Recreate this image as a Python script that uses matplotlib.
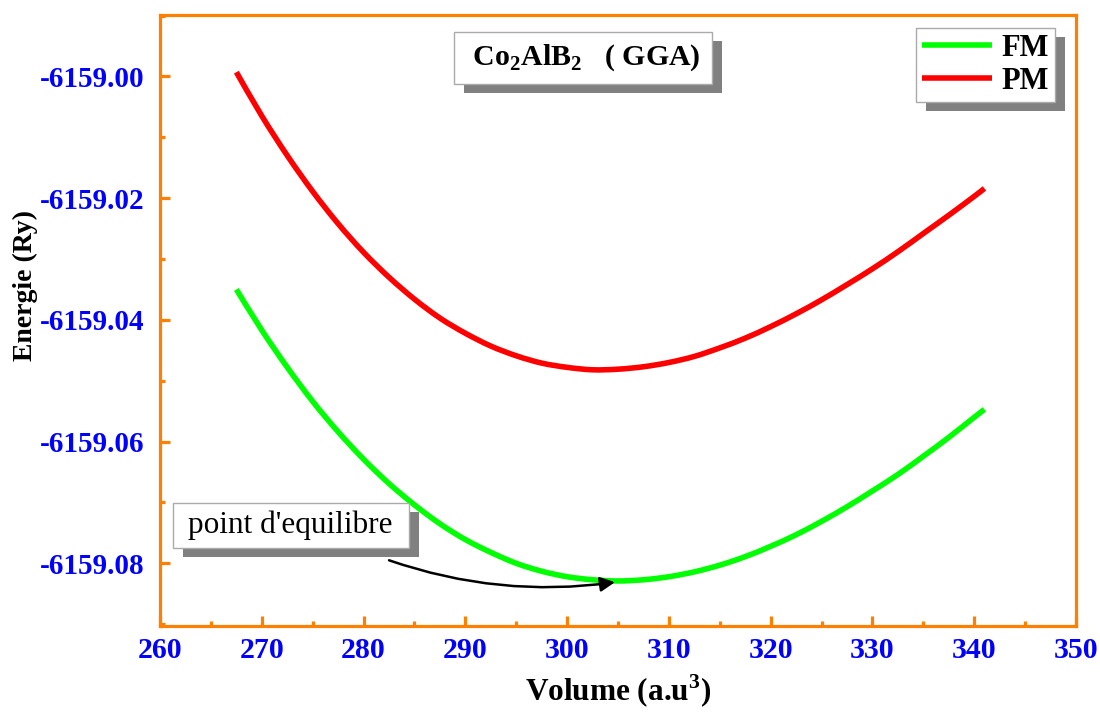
import numpy as np
import matplotlib.pyplot as plt
from matplotlib.patches import Rectangle, PathPatch
from matplotlib.path import Path
from matplotlib.lines import Line2D
from matplotlib.ticker import MultipleLocator, FormatStrFormatter

plt.rcParams['font.family'] = ['Liberation Serif', 'DejaVu Serif']
plt.rcParams['mathtext.fontset'] = 'custom'
plt.rcParams['mathtext.rm'] = 'Liberation Serif:bold'

# volume (a.u^3) and energies (Ry)
volume = [267.5, 270, 272.5, 275, 277.5, 280, 282.5, 285, 287.5, 290,
          292.5, 295, 297.5, 300, 302.5, 305, 307.5, 310, 312.5, 315,
          317.5, 320, 322.5, 325, 327.5, 330, 332.5, 335, 337.5, 340, 341]
e_fm = [-6159.0350, -6159.0417, -6159.0478, -6159.0534, -6159.0584, -6159.0629,
        -6159.0669, -6159.0704, -6159.0735, -6159.0761, -6159.0782, -6159.0800,
        -6159.0813, -6159.0822, -6159.0827, -6159.0829, -6159.0827, -6159.0822,
        -6159.0814, -6159.0803, -6159.0789, -6159.0772, -6159.0753, -6159.0731,
        -6159.0707, -6159.0681, -6159.0654, -6159.0624, -6159.0593, -6159.0560,
        -6159.0547]
e_pm = [-6158.9993, -6159.0065, -6159.0130, -6159.0189, -6159.0242, -6159.0289,
        -6159.0330, -6159.0366, -6159.0397, -6159.0422, -6159.0443, -6159.0459,
        -6159.0471, -6159.0478, -6159.0482, -6159.0481, -6159.0477, -6159.0470,
        -6159.0460, -6159.0446, -6159.0430, -6159.0411, -6159.0390, -6159.0367,
        -6159.0342, -6159.0316, -6159.0288, -6159.0258, -6159.0228, -6159.0197,
        -6159.0184]

orange = '#FF8000'
blue = '#0000FF'
green = '#00FF00'
red = '#FF0000'


def smooth_curve(x, y):
    # Catmull-Rom through the points, drawn as cubic bezier segments
    pts = np.column_stack([x, y])
    verts = [pts[0]]
    codes = [Path.MOVETO]
    n = len(pts)
    for i in range(n - 1):
        p0 = pts[i - 1] if i > 0 else pts[i]
        p1, p2 = pts[i], pts[i + 1]
        p3 = pts[i + 2] if i + 2 < n else pts[i + 1]
        verts += [p1 + (p2 - p0) / 6, p2 - (p3 - p1) / 6, p2]
        codes += [Path.CURVE4] * 3
    return Path(verts, codes)


fig = plt.figure(figsize=(11, 7.13), dpi=100)
ax = fig.add_axes([0.1455, 0.122, 0.8327, 0.857])

for e, c in [(e_fm, green), (e_pm, red)]:
    ax.add_patch(PathPatch(smooth_curve(volume, e), fc='none', ec=c, lw=4.0,
                           capstyle='butt', zorder=2))

ax.set_xlim(260, 350)
ax.set_ylim(-6159.0903, -6158.9899)
ax.xaxis.set_major_locator(MultipleLocator(10))
ax.xaxis.set_minor_locator(MultipleLocator(5))
ax.yaxis.set_major_locator(MultipleLocator(0.02))
ax.yaxis.set_minor_locator(MultipleLocator(0.01))
ax.yaxis.set_major_formatter(FormatStrFormatter('%.2f'))

for s in ax.spines.values():
    s.set_color(orange)
    s.set_linewidth(2.3)
ax.tick_params(which='both', direction='in', color=orange, width=2.3,
               top=False, right=False)
ax.tick_params(which='major', length=7)
ax.tick_params(which='minor', length=3.5)
ax.tick_params(axis='x', labelsize=21.5, labelcolor=blue, pad=8)
ax.tick_params(axis='y', labelsize=21, labelcolor=blue, pad=11)
for lab in ax.get_xticklabels() + ax.get_yticklabels():
    lab.set_fontweight('bold')

ax.set_xlabel(r'Volume (a.u$^\mathregular{3}$)', fontsize=22.5, fontweight='bold', labelpad=6)
ax.set_ylabel('Energie (Ry)', fontsize=20, fontweight='bold')
ax.yaxis.set_label_coords(-0.133, 0.558)

title = ax.text(0.462, 0.93, r' Co$_\mathregular{2}$AlB$_\mathregular{2}$   ( GGA) ',
                transform=ax.transAxes, ha='center', va='center',
                fontsize=21.5, fontweight='bold', zorder=3,
                bbox=dict(boxstyle='square,pad=0.35', fc='white', ec='#AAAAAA', lw=1))

note = ax.text(0.1425, 0.1645, " point d'equilibre ", transform=ax.transAxes,
               ha='center', va='center', fontsize=22.5, zorder=3,
               bbox=dict(boxstyle='square,pad=0.25', fc='white', ec='#AAAAAA', lw=1))

ax.annotate('', xy=(304.7, -6159.0831), xytext=(282.5, -6159.0795),
            arrowprops=dict(arrowstyle='-|>', color='black', lw=1.8,
                            mutation_scale=22, connectionstyle='arc3,rad=0.12',
                            shrinkA=0, shrinkB=0))

handles = [Line2D([], [], color=green, lw=4.0, solid_capstyle='butt'),
           Line2D([], [], color=red, lw=4.0, solid_capstyle='butt')]
leg = ax.legend(handles, ['FM', 'PM'], loc='upper right', bbox_to_anchor=(0.977, 0.9787),
                borderaxespad=0, prop={'weight': 'bold', 'size': 22}, fancybox=False,
                frameon=True, handlelength=2.3, handletextpad=0.3, labelspacing=0.12,
                borderpad=0.2, framealpha=1)
leg.get_frame().set_edgecolor('#AAAAAA')
leg.get_frame().set_linewidth(1)
leg.set_zorder(5)

# drop shadows behind the boxes
fig.canvas.draw()
inv = fig.transFigure.inverted()


def add_shadow(bb, z, dx=10, dy=-9):
    (x0, y0), (x1, y1) = inv.transform([[bb.x0 + dx, bb.y0 + dy], [bb.x1 + dx, bb.y1 + dy]])
    r = Rectangle((x0, y0), x1 - x0, y1 - y0, transform=fig.transFigure,
                  fc='#808080', ec='none', zorder=z, clip_on=False)
    ax.add_artist(r)


add_shadow(title.get_bbox_patch().get_window_extent(), 2.9)
add_shadow(note.get_bbox_patch().get_window_extent(), 2.9)
add_shadow(leg.get_frame().get_window_extent(), 4.9)

fig.savefig('out.png', dpi=100)
